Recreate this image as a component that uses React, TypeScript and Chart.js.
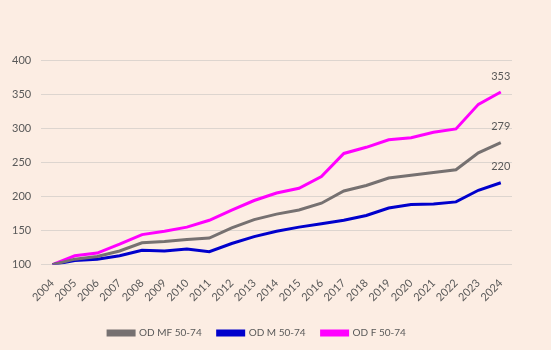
import React, { useEffect, useRef } from "react";
import { Chart, registerables } from "chart.js";

Chart.register(...registerables);

const years = ["2004","2005","2006","2007","2008","2009","2010","2011","2012","2013","2014","2015","2016","2017","2018","2019","2020","2021","2022","2023","2024"];
const odMF = [100,108,112,120,132,134,137,139,154,166,174,180,190,208,216,227,231,235,239,264,279];
const odM = [100,106,108,113,121,120,123,119,131,141,149,155,160,165,172,183,188,189,192,209,220];
const odF = [100,113,117,130,144,149,155,165,180,194,205,212,229,263,272,283,286,294,299,335,353];
const yTicks = [100,150,200,250,300,350,400];

const BG = "#FCEDE3";
const TXT = "#595959";
const FONT = "Lato, 'Open Sans', sans-serif";

const lastLabelPlugin = {
  id: "lastLabel",
  afterDatasetsDraw(chart: any) {
    const ctx = chart.ctx;
    ctx.save();
    ctx.font = `11px ${FONT}`;
    ctx.fillStyle = TXT;
    ctx.textAlign = "center";
    ctx.textBaseline = "middle";
    chart.data.datasets.forEach((ds: any, i: number) => {
      const meta = chart.getDatasetMeta(i);
      const n = ds.data.length - 1;
      const pt = meta.data[n];
      if (!pt) return;
      ctx.fillText(String(ds.data[n]), pt.x, pt.y - 16);
    });
    ctx.restore();
  },
};

const bgPlugin = {
  id: "bg",
  beforeDraw(chart: any) {
    const ctx = chart.ctx;
    ctx.save();
    ctx.fillStyle = BG;
    ctx.fillRect(0, 0, chart.width, chart.height);
    ctx.restore();
  },
};

export default function App() {
  const ref = useRef<HTMLCanvasElement>(null);
  useEffect(() => {
    if (!ref.current) return;
    const chart = new Chart(ref.current, {
      type: "line",
      data: {
        labels: years,
        datasets: [
          { label: "OD MF 50-74", data: odMF, borderColor: "#767171", backgroundColor: "#767171", borderWidth: 3, pointRadius: 0, tension: 0 },
          { label: "OD M 50-74", data: odM, borderColor: "#0000CC", backgroundColor: "#0000CC", borderWidth: 3, pointRadius: 0, tension: 0 },
          { label: "OD F 50-74", data: odF, borderColor: "#FF00FF", backgroundColor: "#FF00FF", borderWidth: 3, pointRadius: 0, tension: 0 },
        ],
      },
      options: {
        animation: false,
        responsive: false,
        maintainAspectRatio: false,
        layout: { padding: { top: 60, right: 39, left: 2, bottom: 2 } },
        scales: {
          x: {
            offset: true,
            grid: { display: false },
            border: { display: false },
            ticks: { color: TXT, font: { family: FONT, size: 11 }, minRotation: 45, maxRotation: 45, autoSkip: false, padding: 4 },
            afterFit: (axis: any) => { axis.height += 4; },
          },
          y: {
            min: 100,
            max: 400,
            afterBuildTicks: (axis: any) => { axis.ticks = yTicks.map((v) => ({ value: v })); },
            grid: { color: "#DDD5CF", lineWidth: 1, drawTicks: false },
            border: { display: false },
            ticks: { color: TXT, font: { family: FONT, size: 11 }, padding: 10 },
          },
        },
        plugins: {
          legend: {
            position: "bottom",
            labels: { boxWidth: 26, boxHeight: 4, color: TXT, font: { family: FONT, size: 10 }, padding: 16 },
          },
          tooltip: { enabled: false },
        },
      },
      plugins: [bgPlugin, lastLabelPlugin],
    });
    return () => chart.destroy();
  }, []);
  return (
    <div style={{ position: "fixed", left: 0, top: 0, width: 551, height: 350, background: BG }}>
      <canvas ref={ref} width={551} height={350} style={{ width: 551, height: 350, display: "block" }} />
    </div>
  );
}
